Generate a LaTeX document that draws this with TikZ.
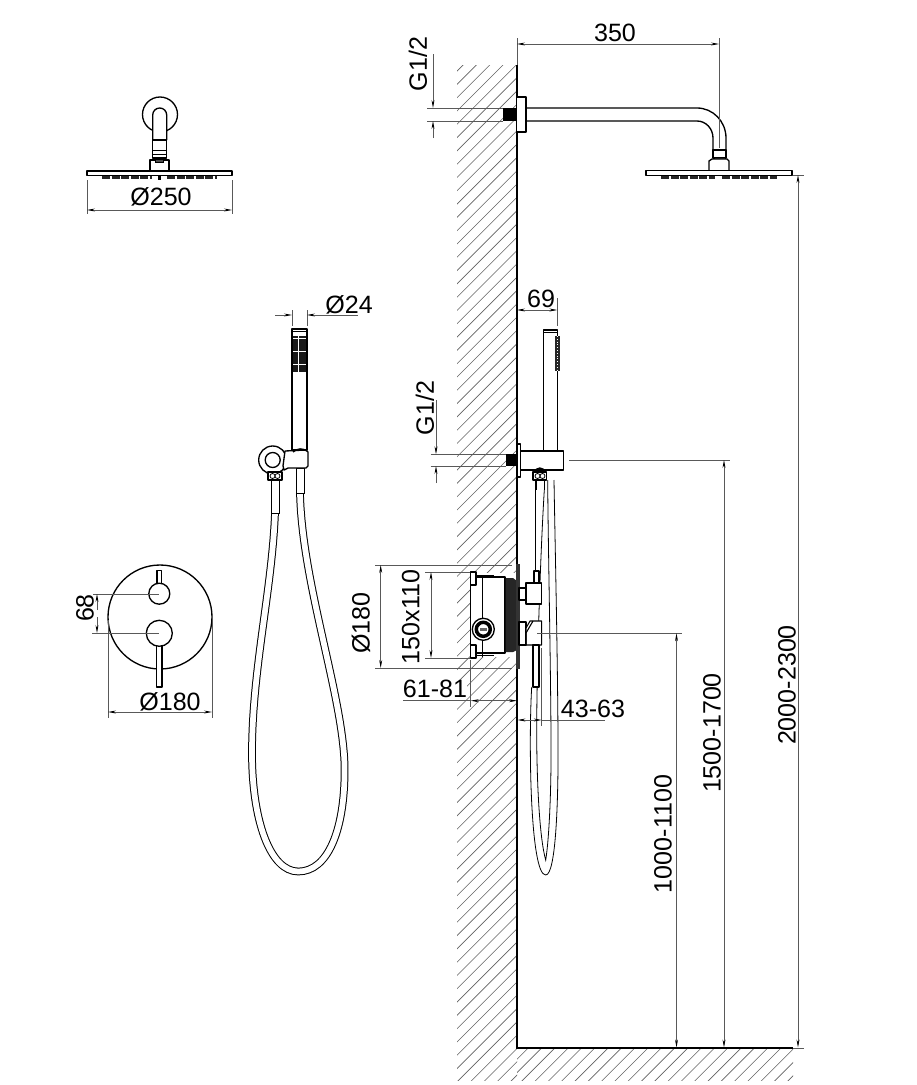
\documentclass[tikz,border=0pt]{standalone}
\usepackage{fontspec}
\setmainfont{Liberation Sans}
\usetikzlibrary{arrows.meta}
\tikzset{
  main/.style={draw=black,line width=1pt,line join=round},
  solid/.style={main,fill=white},
  thinl/.style={draw=black,line width=.6pt},
  dimline/.style={draw=black!65,line width=.55pt},
  both/.style={dimline,{Stealth[length=6pt,width=2.2pt,black]}-{Stealth[length=6pt,width=2.2pt,black]}},
  tipend/.style={dimline,-{Stealth[length=6pt,width=2.2pt,black]}},
  hatchl/.style={draw=black!62,line width=.45pt},
  lab/.style={font=\fontsize{18.8}{20}\selectfont,inner sep=0pt,text=black},
  labv/.style={lab,rotate=90},
  nozzle/.style={draw=black!85,line width=2.3pt,dash pattern=on 6pt off 1.2pt},
  hose/.style={draw=black,line width=.75pt,double=white,double distance=4.3pt}
}
\begin{document}
\begin{tikzpicture}[x=.75pt,y=-.75pt]
\useasboundingbox (0,0) rectangle (917,1085);
% ---------- wall and floor hatching
\begin{scope}
\clip (457,65) rectangle (517,1080);
\foreach \c in {514.8,528.1,...,1600}{\draw[hatchl] (440,\c-440) -- (540,\c-540);}
\end{scope}
\begin{scope}
\clip (517,1049) rectangle (793,1080);
\foreach \c in {1549.7,1563,...,1880}{\draw[hatchl] (500,\c-500) -- (820,\c-820);}
\end{scope}
\fill[white] (470,573) rectangle (517,657);
\draw[draw=black,line width=1.3pt] (517,65) -- (517,1048) -- (793,1048);
\draw[dimline] (793,1048) -- (804,1048);
% ---------- top-left rain shower
\draw[main] (160,114.5) circle (17.5);
\draw[solid] (152.7,140) -- (152.7,115) arc (180:360:7) -- (166.7,140);
\draw[solid] (152.7,140) rectangle (166.7,158);
\draw[thinl] (152.7,150) -- (166.7,150) (152.7,154) -- (166.7,154);
\draw[solid] (150,170.7) -- (150,160) -- (169,160) -- (169,170.7);
\draw[fill=black!70,draw=black] (155,159) rectangle (163,162);
\draw[solid,line width=1.2pt] (87,170.7) rectangle (232,175.5);
\draw[nozzle] (102,177.5) -- (152,177.5) (167,177.5) -- (217,177.5);
\draw[fill=black] (158,176) rectangle (160,179);
\draw[dimline] (87,180) -- (87,214) (232,180) -- (232,214);
\draw[both] (87,210) -- (232,210);
\node[lab] (d250) at (161,197) {Ø250};
% ---------- right rain shower
\draw[main] (526,108) -- (697,108) arc (-90:0:29 and 30) -- (726,152);
\draw[main] (526,121) -- (697,121) arc (-90:0:16 and 17) -- (713,152);
\draw[solid] (517,97) -- (526,97) -- (526,132) -- (517,132);
\fill[black] (503,108) rectangle (517,121);
\draw[solid] (713,150) rectangle (726,158);
\draw[fill=black!70,draw=black] (714,157) rectangle (725,160);
\draw[solid] (709,171) -- (709,161) -- (712,159) -- (727,159) -- (729,161) -- (729,171);
\draw[solid,line width=1.2pt] (646,170.5) rectangle (792,175.5);
\draw[nozzle] (661,177.5) -- (715,177.5) (722,177.5) -- (777,177.5);
\draw[dimline] (427,108) -- (503,108) (427,121) -- (503,121);
\draw[tipend] (433,54) -- (433,108);
\draw[tipend] (433,138) -- (433,121);
\node[labv] (g1) at (418,64) {G1/2};
\draw[dimline] (517,38) -- (517,65) (719,38) -- (719,148);
\draw[both] (517,44) -- (719,44);
\node[lab] (d350) at (615,33) {350};
\draw[dimline] (793,175) -- (804,175);
% ---------- centre hand shower and hose
\draw[hose] (275,513) .. controls (272,590) and (252,670) .. (252,753)
  .. controls (252,820) and (270,871.5) .. (298.3,871.5)
  .. controls (328,871.5) and (344.6,830) .. (344.6,770)
  .. controls (344.6,700) and (302,585) .. (300,493);
\draw[thinl,fill=white] (271,480) rectangle (279,513);
\draw[thinl,fill=white] (296,468) rectangle (304,493);
\draw[main,fill=white] (272.7,460) circle (14);
\draw[solid] (285,451) -- (306,450) -- (308,452) -- (308,466) -- (306,468) -- (288,468) -- (284,470) -- (283,466) -- cycle;
\draw[main,fill=white] (272.7,460) circle (7.5);
\draw[solid] (292,329) rectangle (307,450);
\draw[main] (292,331.5) -- (307,331.5);
\draw[main] (293,452) .. controls (298,448) and (302,448) .. (307,451);
\foreach \i in {0,...,4}{\foreach \j in {0,...,13}{
  \fill[black!90] (293.4+\i*2.6,336+\j*2.6) rectangle ++(2.3,2.3);}}
\draw[solid] (268,472) rectangle (282,480);
\draw[thinl] (272.5,476) circle (2.5) (277.5,476) circle (2.5);
\draw[dimline] (292,310) -- (292,326) (307,310) -- (307,326);
\draw[tipend] (275,315) -- (292,315);
\draw[tipend] (358,315) -- (307,315);
\node[lab] (d24) at (349,305) {Ø24};
% ---------- front view of the valve
\draw[main] (160,617) circle (52);
\draw[solid] (157,570.7) rectangle (161.5,584);
\draw[solid] (159.3,593.7) circle (10.5);
\draw[solid] (156.7,645) rectangle (162,687);
\draw[solid] (159.3,633.3) circle (13);
\draw[dimline] (93,594) -- (159,594) (92,633) -- (159,633);
\draw[tipend] (97,610) -- (97,594);
\draw[tipend] (97,617) -- (97,633);
\node[labv] (d68) at (85,608) {68};
\draw[dimline] (108,620) -- (108,718) (212,620) -- (212,718);
\draw[both] (108,712) -- (212,712);
\node[lab] (d180) at (170,702) {Ø180};
% ---------- side hose
\draw[thinl] (531.7,687) .. controls (528.5,740) and (530,875) .. (545.7,875)
  .. controls (556,875) and (558.5,800) .. (558,737) .. controls (557.5,650) and (555,540) .. (554,480);
\draw[thinl] (544.3,490) .. controls (540,560) and (536.5,680) .. (536.7,737)
  .. controls (537,790) and (540,840) .. (545.7,860)
  .. controls (549,840) and (551.5,790) .. (551,737) .. controls (550.5,650) and (548,540) .. (547.7,480);
\draw[thinl] (535.7,480) -- (535.7,570);
\draw[solid] (536,472) -- (536,490) (544.3,472) -- (544.3,490);
% ---------- side hand shower
\draw[solid] (543.3,330) rectangle (557.3,451);
\draw[main] (543.3,332.5) -- (557.3,332.5);
\fill[black!85] (555.2,336) rectangle (560,371);
\draw[draw=white,line width=.35pt,dash pattern=on .5pt off 1.6pt] (557.6,336) -- (557.6,371);
\draw[solid] (517,444) rectangle (520.7,477);
\draw[solid] (520.7,451) rectangle (563.3,470);
\fill[black] (506,454.3) rectangle (517,466);
\draw[solid] (533,472) rectangle (546.7,480);
\draw[main] (535,472) arc (180:360:4.8 and 4);
\draw[thinl] (537.5,476) circle (2.5) (542.5,476) circle (2.5);
\draw[dimline] (430.7,454.3) -- (506,454.3) (430.7,466) -- (506,466);
\draw[tipend] (436,400) -- (436,454.3);
\draw[tipend] (436,483) -- (436,466);
\node[labv] (g2) at (425,408) {G1/2};
\draw[dimline] (557.3,298) -- (557.3,326);
\draw[both] (517,310) -- (557.3,310);
\node[lab] (d69) at (541,299) {69};
% ---------- valve, side view
\draw[solid,line width=.8pt] (470.7,577) rectangle (505,653);
\draw[thinl] (482.7,575) -- (482.7,657);
\draw[thinl] (476,575) -- (494,575) (476,655) -- (494,655);
\draw[solid,line width=.8pt] (470.7,572) rectangle (476,585);
\draw[solid,line width=.8pt] (470.7,645) rectangle (476,658);
\fill[black!85] (505.7,578) -- (513,578) -- (517,581) -- (517,650) -- (513,652) -- (505.7,652) -- cycle;
\draw[draw=black!80,line width=1.1pt,fill=black!60] (517,565) rectangle (519,668);
\draw[main,fill=white] (483.3,629.3) circle (11);
\draw[draw=black,line width=2.6pt,fill=white] (483.3,629.3) circle (7);
\fill[black!60] (480,628) rectangle (487,631);
\draw[solid,line width=.8pt] (519,588) rectangle (526,600);
\draw[solid,line width=.8pt] (526,583) rectangle (541.7,604);
\draw[solid,line width=.8pt] (534,571) rectangle (539,583);
\draw[solid,line width=.8pt] (519,622) rectangle (526,645);
\draw[solid,line width=.8pt] (526,645) -- (526,628) -- (530,621) -- (541.7,621) -- (541.7,645) -- cycle;
\draw[main,line width=.8pt] (526,645) -- (526,633) -- (533,621);
\draw[solid,line width=.8pt] (533,645) rectangle (539,687);
\draw[dimline] (375,565) -- (512,565) (375,668) -- (512,668);
\draw[both] (380.7,565) -- (380.7,668);
\node[labv] (v180) at (361,623) {Ø180};
\draw[dimline] (425,572) -- (470,572) (425,658) -- (470,658);
\draw[both] (431,572) -- (431,658);
\node[labv] (v150) at (410.7,617) {150x110};
\draw[dimline] (470.7,660) -- (470.7,707);
\draw[dimline] (403,700.7) -- (470.7,700.7);
\draw[both] (470.7,700.7) -- (517,700.7);
\node[lab,fill=white] (d61) at (435,689) {61-81};
\draw[dimline] (541.7,648) -- (541.7,726);
\draw[both] (517.5,720) -- (541.7,720);
\draw[dimline] (541.7,720) -- (605,720);
\node[lab] (d43) at (593,709) {43-63};
% ---------- height dimensions
\draw[dimline] (537,633.3) -- (682,633.3);
\draw[both] (676.5,633.3) -- (676.5,1047.5);
\node[labv] (h1) at (663,834) {1000-1100};
\draw[dimline] (569,460) -- (730,460);
\draw[both] (724,460) -- (724,1047.5);
\node[labv] (h2) at (712,733) {1500-1700};
\draw[both] (798,175) -- (798,1047.5);
\node[labv] (h3) at (787,685) {2000-2300};
\end{tikzpicture}
\end{document}
